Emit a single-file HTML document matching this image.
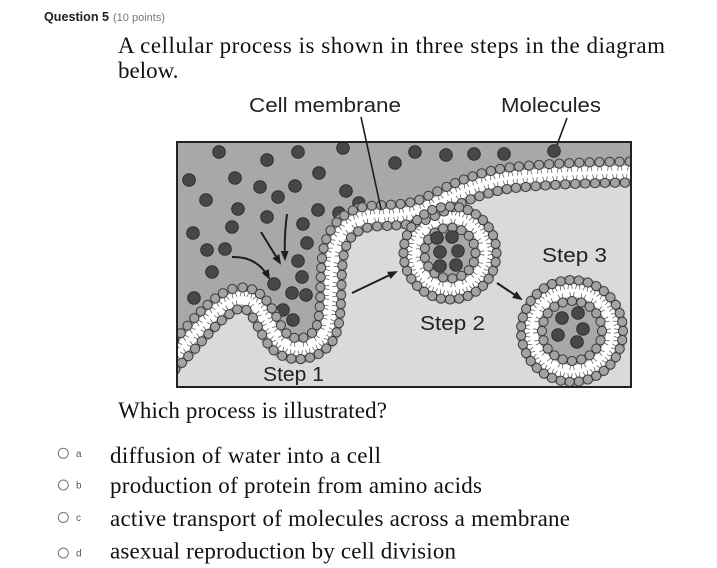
<!DOCTYPE html>
<html><head><meta charset="utf-8"><style>
html,body{margin:0;padding:0;background:#fff;}
svg{display:block;}
</style></head><body>
<svg id="s" xmlns="http://www.w3.org/2000/svg" width="717" height="568" viewBox="0 0 717 568">
<defs>
<clipPath id="box"><rect x="177" y="142" width="454" height="245"/></clipPath>
<marker id="ah" viewBox="0 0 10 8" refX="8" refY="4" markerWidth="10" markerHeight="8" markerUnits="userSpaceOnUse" orient="auto"><path d="M0,0 L10,4 L0,8 Z" fill="#1e1e1e"/></marker>
</defs>
<rect width="717" height="568" fill="#fff"/>
<!-- header -->
<text x="44" y="21" font-family="Liberation Sans, sans-serif" font-weight="bold" font-size="12.5" fill="#222" textLength="65" lengthAdjust="spacingAndGlyphs">Question 5</text>
<text x="113" y="21" font-family="Liberation Sans, sans-serif" font-size="11" fill="#777" textLength="52" lengthAdjust="spacingAndGlyphs">(10 points)</text>
<g font-family="Liberation Serif, serif" font-size="23" fill="#111">
<text x="118" y="53" textLength="547" lengthAdjust="spacing">A cellular process is shown in three steps in the diagram</text>
<text x="118" y="78">below.</text>
<text x="118" y="418" textLength="269" lengthAdjust="spacing">Which process is illustrated?</text>
<text x="110" y="463" textLength="271" lengthAdjust="spacing">diffusion of water into a cell</text>
<text x="110" y="493" textLength="372" lengthAdjust="spacing">production of protein from amino acids</text>
<text x="110" y="526" textLength="460" lengthAdjust="spacing">active transport of molecules across a membrane</text>
<text x="110" y="558.5" textLength="346" lengthAdjust="spacing">asexual reproduction by cell division</text>
</g>
<g fill="#fff" stroke="#777" stroke-width="1">
<circle cx="63.3" cy="453.3" r="5"/>
<circle cx="63.3" cy="485" r="5"/>
<circle cx="63.3" cy="517.5" r="5"/>
<circle cx="63.3" cy="553" r="5"/>
</g>
<g font-family="Liberation Sans, sans-serif" font-size="10" fill="#555">
<text x="76" y="457">a</text>
<text x="76" y="488.5">b</text>
<text x="76" y="521">c</text>
<text x="76" y="556.5">d</text>
</g>

<!-- diagram -->
<g clip-path="url(#box)">
<rect x="176" y="141" width="456" height="247" fill="#dadada"/>
<path fill="#a8a8a8" d="M168,362 C195,336 220,298 242,298 C264,298 268,336 284,345 C300,354 322,346 327,328 C333,308 329,272 334,250 C339,228 355,217 375,216 C395,215 410,215 425,209 C445,200 470,184 510,178 C545,174 600,172 640,172 L640,130 L168,130 Z"/>
<g fill="#474747" stroke="#2e2e2e" stroke-width="1" id="mols">
</g>
<!-- fallback bands -->
<path id="mainp" fill="none" stroke="#a2a2a2" stroke-width="29" d="M168,362 C195,336 220,298 242,298 C264,298 268,336 284,345 C300,354 322,346 327,328 C333,308 329,272 334,250 C339,228 355,217 375,216 C395,215 410,215 425,209 C445,200 470,184 510,178 C545,174 600,172 640,172"/>
<circle cx="450" cy="253" r="36" fill="none" stroke="#a2a2a2" stroke-width="29"/>
<circle cx="572" cy="331" r="40.5" fill="none" stroke="#a2a2a2" stroke-width="29"/>
<path fill="none" stroke="#fff" stroke-width="13" d="M168,362 C195,336 220,298 242,298 C264,298 268,336 284,345 C300,354 322,346 327,328 C333,308 329,272 334,250 C339,228 355,217 375,216 C395,215 410,215 425,209 C445,200 470,184 510,178 C545,174 600,172 640,172"/>
<circle cx="450" cy="253" r="22" fill="#a8a8a8"/>
<circle cx="572" cy="331" r="26" fill="#a8a8a8"/>
<circle cx="450" cy="253" r="36" fill="none" stroke="#fff" stroke-width="13"/>
<circle cx="572" cy="331" r="40.5" fill="none" stroke="#fff" stroke-width="13"/>
<g id="tails" stroke="#666" stroke-width="0.8" stroke-linecap="round"></g>
<g id="heads" fill="#a3a3a3" stroke="#3a3a3a" stroke-width="1"></g>
<g fill="#474747" stroke="#2e2e2e" stroke-width="1">
<circle cx="437" cy="238" r="6.3"/><circle cx="452" cy="237" r="6.3"/>
<circle cx="440" cy="252" r="6.3"/><circle cx="458" cy="251" r="6.3"/>
<circle cx="440" cy="266" r="6.3"/><circle cx="456" cy="265" r="6.3"/>
<circle cx="562" cy="318" r="6.3"/><circle cx="578" cy="313" r="6.3"/>
<circle cx="583" cy="329" r="6.3"/><circle cx="558" cy="335" r="6.3"/>
<circle cx="577" cy="342" r="6.3"/>
</g>
</g>
<!-- arrows -->
<g fill="none" stroke="#1e1e1e" stroke-width="2" marker-end="url(#ah)">
<path d="M232,257 Q257,256 269,278"/>
<path d="M261,232 L280,263"/>
<path d="M287,214 Q284,236 285,259"/>
<path d="M352,293 L396,272"/>
<path d="M497,283 L521,299"/>
</g>
<!-- label lines -->
<g stroke="#1e1e1e" stroke-width="1.6">
<line x1="361" y1="117" x2="381" y2="209"/>
<line x1="567" y1="118" x2="557" y2="145"/>
</g>
<g font-family="Liberation Sans, sans-serif" font-size="20" fill="#222">
<text x="249" y="112" textLength="152" lengthAdjust="spacingAndGlyphs">Cell membrane</text>
<text x="501" y="112" textLength="100" lengthAdjust="spacingAndGlyphs">Molecules</text>
<text x="263" y="381" textLength="61" lengthAdjust="spacingAndGlyphs">Step 1</text>
<text x="420" y="330" textLength="65" lengthAdjust="spacingAndGlyphs">Step 2</text>
<text x="542" y="262" textLength="65" lengthAdjust="spacingAndGlyphs">Step 3</text>
</g>
<rect x="177" y="142" width="454" height="245" fill="none" stroke="#222" stroke-width="2"/>
</svg>
<script>
(function(){
var NS='http://www.w3.org/2000/svg';
var mols=[[219,152],[267,160],[298,152],[343,148],[395,163],[415,152],[446,155],[474,154],[504,154],[554,151],
[189,180],[235,178],[260,187],[295,186],[319,173],[206,200],[278,197],[346,191],[359,203],[238,209],[267,217],[318,210],[339,213],[193,233],[232,227],[303,224],[207,250],[225,249],[307,243],[212,272],[298,261],[302,277],[194,298],[274,284],[292,293],[306,295],[283,310],[293,320]];
var mg=document.getElementById('mols');
mols.forEach(function(m){var c=document.createElementNS(NS,'circle');c.setAttribute('cx',m[0]);c.setAttribute('cy',m[1]);c.setAttribute('r',6.3);mg.appendChild(c);});
var hg=document.getElementById('heads'), tg=document.getElementById('tails');
function line(x1,y1,x2,y2){var l=document.createElementNS(NS,'line');l.setAttribute('x1',x1.toFixed(1));l.setAttribute('y1',y1.toFixed(1));l.setAttribute('x2',x2.toFixed(1));l.setAttribute('y2',y2.toFixed(1));tg.appendChild(l);}
function place(x,y,ux,uy){
  var c=document.createElementNS(NS,'circle');c.setAttribute('cx',x.toFixed(1));c.setAttribute('cy',y.toFixed(1));c.setAttribute('r',4.6);hg.appendChild(c);
  var tx=-uy,ty=ux;
  line(x+ux*4.3+tx*1.3,y+uy*4.3+ty*1.3,x+ux*8.5+tx*2.2,y+uy*8.5+ty*2.2);
  line(x+ux*4.3-tx*1.3,y+uy*4.3-ty*1.3,x+ux*8.5-tx*2.2,y+uy*8.5-ty*2.2);
}
var p=document.getElementById('mainp');
var L=p.getTotalLength(),pts=[];
for(var s=0;s<=L;s+=1){pts.push(p.getPointAtLength(s));}
[10.5,-10.5].forEach(function(off){
  var poly=[];
  for(var i=0;i<pts.length;i++){
    var a=pts[Math.max(0,i-2)],b=pts[Math.min(pts.length-1,i+2)];
    var dx=b.x-a.x,dy=b.y-a.y,m=Math.hypot(dx,dy)||1;
    var nx=-dy/m,ny=dx/m;
    poly.push({x:pts[i].x+nx*off,y:pts[i].y+ny*off,ux:-nx*Math.sign(off),uy:-ny*Math.sign(off)});
  }
  var acc=0;place(poly[0].x,poly[0].y,poly[0].ux,poly[0].uy);
  for(var j=1;j<poly.length;j++){
    acc+=Math.hypot(poly[j].x-poly[j-1].x,poly[j].y-poly[j-1].y);
    if(acc>=9.2){place(poly[j].x,poly[j].y,poly[j].ux,poly[j].uy);acc=0;}
  }
});
function ves(cx,cy,R){
  [R+10.5,R-10.5].forEach(function(r,k){
    var n=Math.round(2*Math.PI*r/9.2);
    for(var i=0;i<n;i++){
      var a=2*Math.PI*i/n,cs=Math.cos(a),sn=Math.sin(a);
      var sg=(k==0)?-1:1;
      place(cx+cs*r,cy+sn*r,cs*sg,sn*sg);
    }
  });
}
ves(450,253,36);
ves(572,331,40.5);
})();
</script>
</body></html>
